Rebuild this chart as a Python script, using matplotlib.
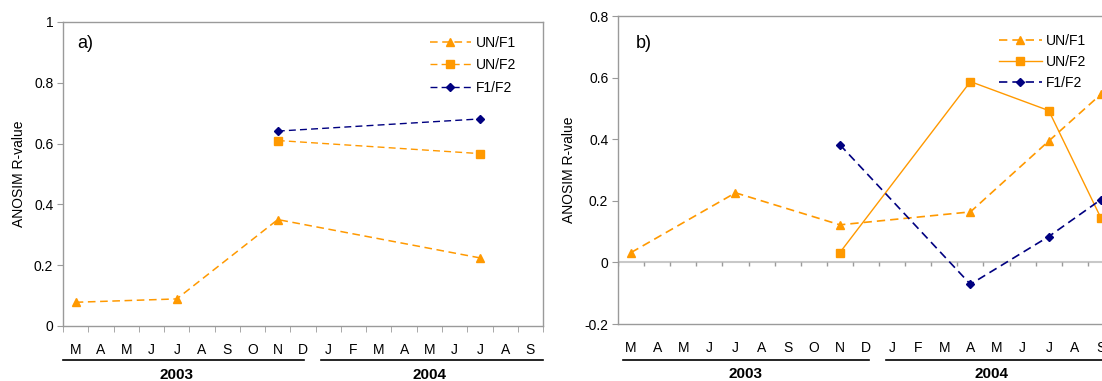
import numpy as np
import matplotlib
matplotlib.use("Agg")
import matplotlib.pyplot as plt
import matplotlib.transforms as mtransforms

plt.rcParams['font.family'] = ['Liberation Sans', 'DejaVu Sans']

# month categories, Mar 2003 .. Sep 2004
months = ["M", "A", "M", "J", "J", "A", "S", "O", "N", "D",
          "J", "F", "M", "A", "M", "J", "J", "A", "S"]
years = ["2003", "2004"]

# panel a) sampling months (index into months) and R-values
a_un_f1_idx = [0, 4, 8, 16]
a_un_f1 = [0.078, 0.089, 0.35, 0.224]
a_un_f2_idx = [8, 16]
a_un_f2 = [0.61, 0.567]
a_f1_f2_idx = [8, 16]
a_f1_f2 = [0.641, 0.681]

# panel b)
b_un_f1_idx = [0, 4, 8, 13, 16, 18]
b_un_f1 = [0.032, 0.226, 0.122, 0.164, 0.394, 0.546]
b_un_f2_idx = [8, 13, 16, 18]
b_un_f2 = [0.032, 0.587, 0.493, 0.144]
b_f1_f2_idx = [8, 13, 16, 18]
b_f1_f2 = [0.382, -0.071, 0.084, 0.204]

ORANGE = "#FF9900"
NAVY = "#000080"
GRAY = "#9a9a9a"
DASH = (0, (5, 3))

fig = plt.figure(figsize=(11.02, 3.81), dpi=100)
ax_a = fig.add_axes([0.0572, 0.1444, 0.4356, 0.798])
ax_b = fig.add_axes([0.5608, 0.1496, 0.4501, 0.8084])


def style_axes(ax, ylim, yticks, ylabels):
    ax.set_xlim(-0.5, len(months) - 0.5)
    ax.set_ylim(*ylim)
    ax.set_yticks(yticks)
    ax.set_yticklabels(ylabels, fontsize=10)
    for s in ax.spines.values():
        s.set_color(GRAY)
        s.set_linewidth(1)
    ax.tick_params(axis="y", direction="out", length=4, color=GRAY, pad=3)
    ax.set_xticks(range(len(months)))
    ax.set_xticklabels(months, fontsize=10)
    ax.tick_params(axis="x", length=0, pad=12)
    ax.set_ylabel("ANOSIM R-value", fontsize=10, labelpad=6)


def year_bars(ax, spans, label_x, y_line, y_text):
    trans = mtransforms.blended_transform_factory(ax.transData, ax.transAxes)
    for (x0, x1), lx, yr in zip(spans, label_x, years):
        ax.plot([x0, x1], [y_line, y_line], color="black", lw=1.2,
                transform=trans, clip_on=False)
        ax.text(lx, y_text, yr, transform=trans, ha="center", va="center",
                fontsize=11, fontweight="bold")


# ---- panel a ----
style_axes(ax_a, (0, 1), [0, 0.2, 0.4, 0.6, 0.8, 1],
           ["0", "0.2", "0.4", "0.6", "0.8", "1"])
bounds = np.arange(len(months) + 1) - 0.5
ax_a.set_xticks(bounds, minor=True)
ax_a.tick_params(axis="x", which="minor", direction="out", length=4, color=GRAY)

ax_a.plot(a_un_f1_idx, a_un_f1, ls=DASH, color=ORANGE, lw=1.1, marker="^",
          ms=6, label="UN/F1")
ax_a.plot(a_un_f2_idx, a_un_f2, ls=DASH, color=ORANGE, lw=1, marker="s",
          ms=6, label="UN/F2")
ax_a.plot(a_f1_f2_idx, a_f1_f2, ls=DASH, color=NAVY, lw=1, marker="D",
          ms=4, label="F1/F2")
ax_a.text(0.03, 0.93, "a)", transform=ax_a.transAxes, fontsize=13, va="center")
ax_a.legend(loc="upper left", bbox_to_anchor=(0.765, 0.954), frameon=False,
            fontsize=10, borderpad=0, borderaxespad=0, handlelength=2.9,
            handletextpad=0.4, labelspacing=0.6)
year_bars(ax_a, [(-0.5, 9.05), (9.7, 18.5)], [4.0, 14.0], -0.112, -0.16)

# ---- panel b ----
style_axes(ax_b, (-0.2, 0.8), [-0.2, 0, 0.2, 0.4, 0.6, 0.8],
           ["-0.2", "0", "0.2", "0.4", "0.6", "0.8"])
ax_b.axhline(0, color="#c8c8c8", lw=1.5, zorder=1)
ax_b.vlines(bounds, -0.012, 0, color=GRAY, lw=1, zorder=1)

ax_b.plot(b_un_f1_idx, b_un_f1, ls=DASH, color=ORANGE, lw=1.2, marker="^",
          ms=6, label="UN/F1")
ax_b.plot(b_un_f2_idx, b_un_f2, ls="-", color=ORANGE, lw=1, marker="s",
          ms=6, label="UN/F2")
ax_b.plot(b_f1_f2_idx, b_f1_f2, ls=DASH, color=NAVY, lw=1.2, marker="D",
          ms=4, label="F1/F2")
ax_b.text(0.035, 0.91, "b)", transform=ax_b.transAxes, fontsize=13, va="center")
ax_b.legend(loc="upper left", bbox_to_anchor=(0.768, 0.942), frameon=False,
            fontsize=10, borderpad=0, borderaxespad=0, handlelength=3.1,
            handletextpad=0.3, labelspacing=0.5)
year_bars(ax_b, [(-0.31, 9.12), (9.77, 18.6)], [4.4, 13.8], -0.117, -0.162)

fig.savefig("out.png", dpi=100)
